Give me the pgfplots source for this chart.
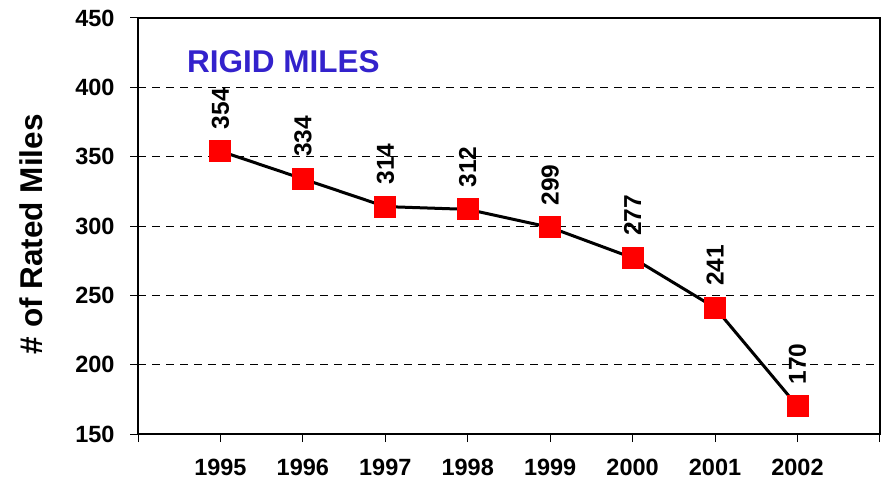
\documentclass[border=0pt]{standalone}
\usepackage{fontspec}
\setmainfont{Liberation Sans}
\usepackage{pgfplots}
\pgfplotsset{compat=1.18}
\definecolor{titleblue}{RGB}{51,34,204}

\begin{document}
\begin{tikzpicture}
\begin{axis}[
  name=ax,
  scale only axis,
  width=742pt, height=416pt,
  xmin=1994, xmax=2003,
  ymin=150, ymax=450,
  xtick={1994,...,2003},
  xticklabels={{},1995,1996,1997,1998,1999,2000,2001,2002,{}},
  ytick={150,200,...,450},
  tick align=outside,
  xtick pos=bottom, ytick pos=left,
  major tick length=8pt,
  tick style={black, line width=1pt},
  ymajorgrids,
  major grid style={black, line width=0.8pt, dash pattern=on 8pt off 6pt},
  axis line style={black, line width=1.2pt},
  /pgf/number format/assume math mode=true,
  ticklabel style={font=\fontsize{23.5}{26}\selectfont\bfseries},
  yticklabel style={xshift=-12pt},
  xticklabel style={yshift=-14pt},
  ylabel={\# of Rated Miles},
  ylabel style={font=\fontsize{31.5}{34}\selectfont\bfseries,
    at={(axis description cs:-0.144,0.48)}, anchor=center},
  clip=false,
  nodes near coords,
  every node near coord/.append style={rotate=90, anchor=west,
    font=\fontsize{24.5}{27}\selectfont\bfseries, inner ysep=0pt, inner xsep=0pt,
    outer sep=0pt},
  nodes near coords={\hspace*{22pt}\pgfmathprintnumber{\pgfplotspointmeta}},
]
\addplot[black, line width=3pt, mark=square*, mark size=10.5pt,
  mark options={fill=red, draw=red, line width=0pt}]
  coordinates {(1995,354) (1996,334) (1997,314) (1998,312)
               (1999,299) (2000,277) (2001,241) (2002,170)};
\node[anchor=west, text=titleblue, inner sep=0pt,
  font=\fontsize{31.5}{34}\selectfont\bfseries]
  at (rel axis cs:0.066,0.894) {RIGID MILES};
\end{axis}
\path (ax.south west) ++(-138pt,-50pt) coordinate (bbl);
\path (ax.north east) ++(8pt,18pt) coordinate (bur);
\useasboundingbox (bbl) rectangle (bur);
\end{tikzpicture}
\end{document}
